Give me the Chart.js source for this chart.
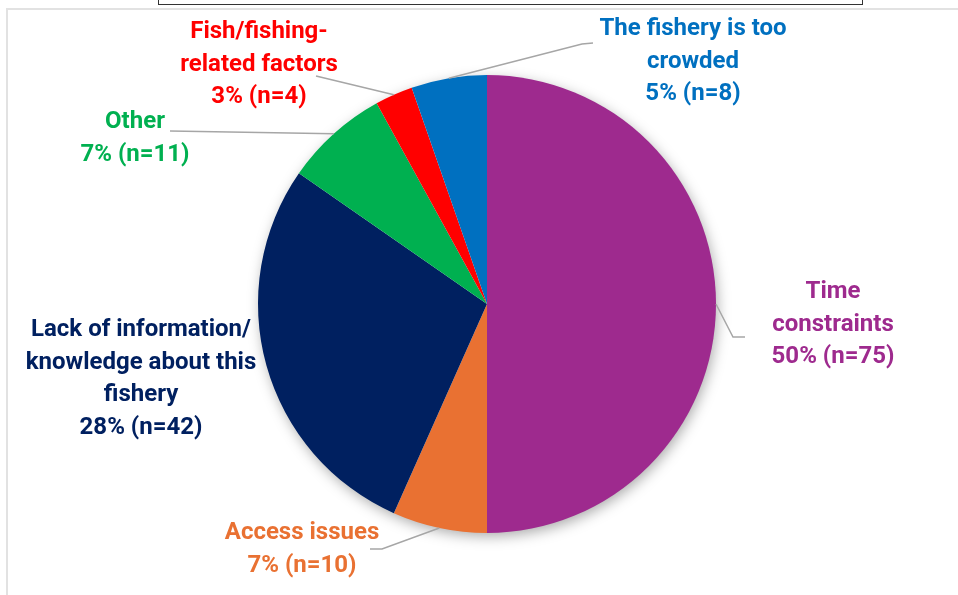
<!DOCTYPE html>
<html>
<head>
<meta charset="utf-8">
<script src="https://cdn.jsdelivr.net/npm/chart.js@4"></script>
<style>
  body { margin: 0; background: #fff; }
  #wrap { position: relative; width: 958px; height: 595px; overflow: hidden; }
  #titleBox { position: absolute; left: 158px; top: -4px; width: 703px; height: 8px; border: 1.5px solid #333; border-top: none; }
  #frame { position: absolute; left: 6px; top: 8px; width: 1000px; height: 700px; border-left: 2px solid #e2e2e2; border-top: 2px solid #e2e2e2; }
  canvas { position: absolute; left: 0; top: 0; }
</style>
</head>
<body>
<div id="wrap">
  <div id="titleBox"></div>
  <div id="frame"></div>
  <canvas id="reasonsChart" width="958" height="595"></canvas>
</div>
<script>
// responses per reason, clockwise from 12 o'clock
const categories = ['Time constraints', 'Access issues', 'Lack of information/knowledge about this fishery', 'Other', 'Fish/fishing-related factors', 'The fishery is too crowded'];
const labelLines = [
  ['Time', 'constraints'],
  ['Access issues'],
  ['Lack of information/', 'knowledge about this', 'fishery'],
  ['Other'],
  ['Fish/fishing-', 'related factors'],
  ['The fishery is too', 'crowded']
];
const counts = [75, 10, 42, 11, 4, 8];
const colors = ['#9E2A8E', '#E97132', '#002060', '#00B050', '#FF0000', '#0070C0'];

const total = counts.reduce((a, b) => a + b, 0);

// where each label block sits and how its leader runs back to the slice
const labelLayout = [
  { x: 833, y: 292, leader: [[733, 337], [745, 337]] },
  { x: 302, y: 533, leader: [[382, 549], [370, 549]] },
  { x: 141, y: 330, leader: null },
  { x: 135, y: 122, leader: [[170, 131]] },
  { x: 259, y: 32, leader: [[316, 76]] },
  { x: 693, y: 29, leader: [[582, 44], [593, 43]] }
];
const lineGap = 32.5;
const labelFont = "bold 24px 'Liberation Sans Narrow', 'Roboto', sans-serif";

const pieShadow = {
  id: 'pieShadow',
  beforeDatasetsDraw(chart) {
    const arc = chart.getDatasetMeta(0).data[0];
    if (!arc) return;
    const ctx = chart.ctx;
    ctx.save();
    ctx.shadowColor = 'rgba(0,0,0,0.35)';
    ctx.shadowBlur = 14;
    ctx.shadowOffsetX = 2;
    ctx.shadowOffsetY = 4;
    ctx.fillStyle = '#fff';
    ctx.beginPath();
    ctx.arc(arc.x, arc.y, arc.outerRadius - 1, 0, Math.PI * 2);
    ctx.fill();
    ctx.restore();
  }
};

const sliceLabels = {
  id: 'sliceLabels',
  afterDatasetsDraw(chart) {
    const ctx = chart.ctx;
    chart.getDatasetMeta(0).data.forEach((arc, i) => {
      const mid = (arc.startAngle + arc.endAngle) / 2;
      const ex = arc.x + Math.cos(mid) * arc.outerRadius;
      const ey = arc.y + Math.sin(mid) * arc.outerRadius;
      const lay = labelLayout[i];
      ctx.save();
      if (lay.leader) {
        ctx.strokeStyle = '#A6A6A6';
        ctx.lineWidth = 1.5;
        ctx.beginPath();
        ctx.moveTo(ex, ey);
        lay.leader.forEach(p => ctx.lineTo(p[0], p[1]));
        ctx.stroke();
      }
      const pct = Math.round(counts[i] / total * 100);
      const lines = labelLines[i].concat([pct + '% (n=' + counts[i] + ')']);
      ctx.fillStyle = colors[i];
      ctx.font = labelFont;
      ctx.textAlign = 'center';
      ctx.textBaseline = 'middle';
      lines.forEach((t, k) => ctx.fillText(t, lay.x, lay.y + k * lineGap));
      ctx.restore();
    });
  }
};

new Chart(document.getElementById('reasonsChart'), {
  type: 'pie',
  data: {
    labels: categories,
    datasets: [{
      data: counts,
      backgroundColor: colors,
      borderWidth: 0
    }]
  },
  options: {
    responsive: false,
    animation: false,
    layout: { padding: { top: 75, bottom: 62, left: 100, right: 84 } },
    plugins: {
      legend: { display: false },
      tooltip: { enabled: false }
    }
  },
  plugins: [pieShadow, sliceLabels]
});
</script>
</body>
</html>
